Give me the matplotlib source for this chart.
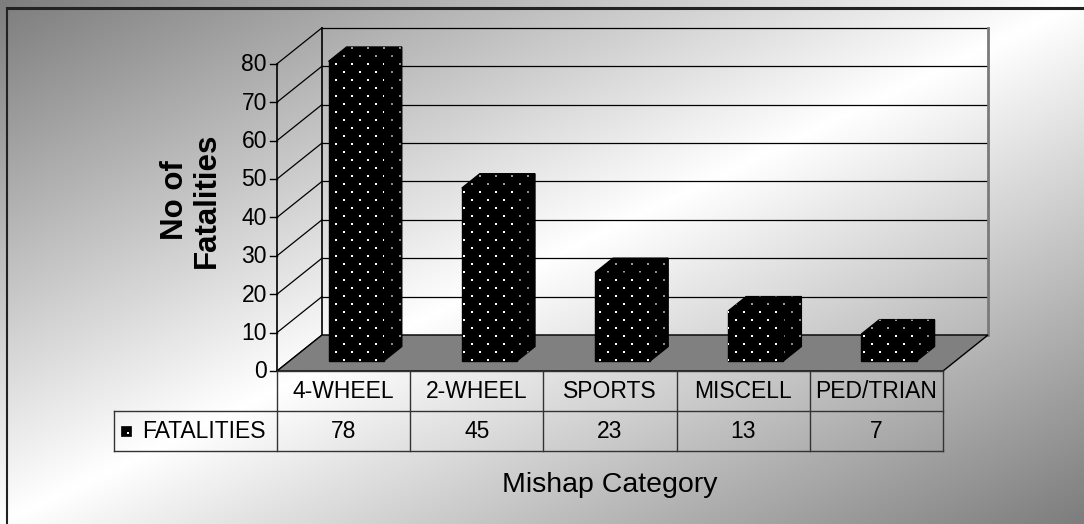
import numpy as np
import matplotlib.pyplot as plt
from matplotlib.patches import Polygon

plt.rcParams['font.family'] = ['Liberation Sans', 'DejaVu Sans']

# data
categories = ['4-WHEEL', '2-WHEEL', 'SPORTS', 'MISCELL', 'PED/TRIAN']
fatalities = [78, 45, 23, 13, 7]
series_name = 'FATALITIES'
yticks = [0, 10, 20, 30, 40, 50, 60, 70, 80]
ylabel = 'No of\nFatalities'
xlabel = 'Mishap Category'

W, H = 1084, 524

# pseudo 3d geometry, in pixels
X0, X1 = 277, 943          # front plane, left / right
Y0 = 371                   # front plane, value 0
PPU = 3.84                 # pixels per unit of value
DX, DY = 45, -36           # depth offset of the back wall
CW = (X1 - X0) / len(categories)
BAR_HALF = 0.207           # half bar width, in category units
D0, D1 = 0.28, 0.68        # bar depth range
ROW_H = 40                 # data table row height
KEY_X = 114                # left edge of the data table


def proj(u, d, v):
    return (X0 + u * CW + d * DX, Y0 - v * PPU + d * DY)


fig = plt.figure(figsize=(W / 100, H / 100), dpi=100)
ax = fig.add_axes([0, 0, 1, 1])
ax.set_xlim(0, W)
ax.set_ylim(H, 0)
ax.axis('off')

# diagonal gradient background: grey corners, white along the anti-diagonal
gx, gy = np.meshgrid(np.linspace(0, 1, 400), np.linspace(0, 1, 200))
s = np.abs(gx + gy - 1)
bg = 255 - 130 * s
ax.imshow(bg, cmap='gray', vmin=0, vmax=255, extent=[0, W, H, 0],
          aspect='auto', zorder=0, interpolation='bilinear')

# outer frame
ax.plot([7, W + 5], [8, 8], color='#222222', lw=2.2, zorder=1)
ax.plot([7, 7], [8, H + 5], color='#222222', lw=1.5, zorder=1)

ymax = yticks[-1]
n = len(categories)

# gridlines on left and back walls
for t in yticks:
    fx, fy = proj(0, 0, t)
    bx, by = proj(0, 1, t)
    ex, ey = proj(n, 1, t)
    ax.plot([fx, bx], [fy, by], color='black', lw=0.9, zorder=2)
    ax.plot([bx, ex], [by, ey], color='black', lw=0.9, zorder=2)
    ax.plot([fx - 7, fx], [fy, fy], color='black', lw=1, zorder=2)
    ax.text(fx - 10, fy + 1, str(t), ha='right', va='center', fontsize=16.5, zorder=5)

# wall edges
ax.plot(*zip(proj(0, 0, 0), proj(0, 0, ymax)), color='black', lw=1.2, zorder=2)
ax.plot(*zip(proj(0, 1, 0), proj(0, 1, ymax)), color='black', lw=1.2, zorder=2)
ax.plot(*zip(proj(n, 1, 0), proj(n, 1, ymax)), color='#7a7a7a', lw=2, zorder=2)

# floor
floor = [proj(0, 0, 0), proj(n, 0, 0), proj(n, 1, 0), proj(0, 1, 0)]
ax.add_patch(Polygon(floor, closed=True, facecolor='#808080', edgecolor='black',
                     lw=1, zorder=3))


def dotted_face(pts, dot_color, z):
    patch = Polygon(pts, closed=True, facecolor='black', edgecolor='black',
                    lw=1, zorder=z)
    ax.add_patch(patch)
    xs = [p[0] for p in pts]
    ys = [p[1] for p in pts]
    rows = np.arange(np.floor(min(ys) / 8) * 8, max(ys) + 8, 8)
    dx_, dy_ = [], []
    for r in rows:
        off = 8 if int(r / 8) % 2 else 0
        cols = np.arange(np.floor(min(xs) / 16) * 16 + off, max(xs) + 16, 16)
        dx_.extend(cols)
        dy_.extend([r] * len(cols))
    sc = ax.scatter(dx_, dy_, marker='s', s=2.6, c=dot_color, linewidths=0,
                    zorder=z + 0.1)
    sc.set_clip_path(patch)


# bars
for i, v in enumerate(fatalities):
    ul, ur = i + 0.5 - BAR_HALF, i + 0.5 + BAR_HALF
    front = [proj(ul, D0, 0), proj(ur, D0, 0), proj(ur, D0, v), proj(ul, D0, v)]
    side = [proj(ur, D0, 0), proj(ur, D1, 0), proj(ur, D1, v), proj(ur, D0, v)]
    top = [proj(ul, D0, v), proj(ur, D0, v), proj(ur, D1, v), proj(ul, D1, v)]
    dotted_face(side, '#8a8a8a', 4)
    dotted_face(top, '#9a9a9a', 4)
    dotted_face(front, 'white', 4.3)

# data table
tc = '#333333'
ya, yb, yc = Y0, Y0 + ROW_H, Y0 + 2 * ROW_H
ax.plot([X0, X1], [ya, ya], color=tc, lw=1, zorder=5)
ax.plot([KEY_X, X1], [yb, yb], color=tc, lw=1, zorder=5)
ax.plot([KEY_X, X1], [yc, yc], color=tc, lw=1, zorder=5)
ax.plot([KEY_X, KEY_X], [yb, yc], color=tc, lw=1, zorder=5)
for k in range(n + 1):
    x = X0 + k * CW
    ax.plot([x, x], [ya, yc], color=tc, lw=1, zorder=5)
for i, (c, v) in enumerate(zip(categories, fatalities)):
    xc = X0 + (i + 0.5) * CW
    ax.text(xc, (ya + yb) / 2 + 1, c, ha='center', va='center', fontsize=16.5, zorder=6)
    ax.text(xc, (yb + yc) / 2 + 1, str(v), ha='center', va='center', fontsize=16.5, zorder=6)

# legend key inside the table
ky = (yb + yc) / 2
ax.add_patch(Polygon([(121, ky - 5), (131, ky - 5), (131, ky + 5), (121, ky + 5)],
                     closed=True, facecolor='black', edgecolor='black', lw=0.5, zorder=6))
ax.scatter([128], [ky + 2], marker='s', s=2, c='white', linewidths=0, zorder=7)
ax.text(142, ky + 1, series_name, ha='left', va='center', fontsize=16.5, zorder=6)

# axis titles
ax.text(191, 200, ylabel, rotation=90, ha='center', va='center', fontsize=22.5,
        fontweight='bold', linespacing=1.1, multialignment='center', zorder=6)
ax.text(610, 485, xlabel, ha='center', va='center', fontsize=20.5, zorder=6)

fig.savefig('out.png', dpi=100)
